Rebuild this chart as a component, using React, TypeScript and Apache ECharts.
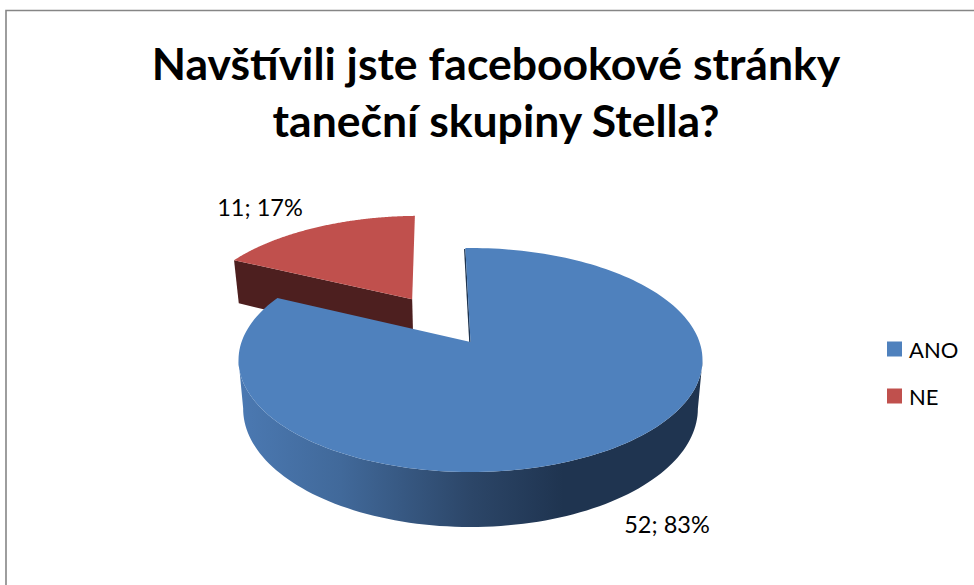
import React, { useEffect, useRef } from "react";
import * as echarts from "echarts";

const categories = ["ANO", "NE"];
const values = [52, 11];
const titleLines = ["Navštívili jste facebookové stránky", "taneční skupiny Stella?"];

const BLUE = "#4f81bd";
const RED = "#c0504d";
const RED_CUT = "#4d1f1f";
const BLUE_CUT = "#1f3550";
const FONT = "Lato";

// Tilted disc: centre and radii of the top face, perspective shift of the apex.
const CX = 470.5;
const CY = 360;
const RX = 232;
const RY = 112;
const K = -0.16;
const START_DEG = -1.5;
const EXPLODE = 0.5;

const total = values.reduce((a, b) => a + b, 0);

function toScreen(x: number, y: number): [number, number] {
  const d = 1 + K * y;
  return [CX + (RX * x * Math.sqrt(1 - K * K)) / d, CY + (RY * (y + K)) / d];
}

// Lower rim of the disc for a point on its top face.
function drop(p: [number, number]): [number, number] {
  return [CX + (p[0] - CX) * 0.98, p[1] + 43 + ((p[1] - 258) * 12) / 214];
}

function sliceGeometry(index: number) {
  const before = values.slice(0, index).reduce((a, b) => a + b, 0);
  // NE is laid out last, so it ends back at the start angle.
  const from = START_DEG + (before / total) * 360;
  const to = from + (values[index] / total) * 360;
  const rad = (d: number) => (d * Math.PI) / 180;
  const mid = rad((from + to) / 2);
  const shift = index === 1 ? EXPLODE : 0;
  const ox = shift * Math.sin(mid);
  const oy = -shift * Math.cos(mid);
  const arc: [number, number][] = [];
  const steps = 180;
  for (let i = 0; i <= steps; i++) {
    const a = rad(from + ((to - from) * i) / steps);
    arc.push(toScreen(ox + Math.sin(a), oy - Math.cos(a)));
  }
  return { apex: toScreen(ox, oy), arc };
}

function renderSlice(index: number) {
  return () => {
    const { apex, arc } = sliceGeometry(index);
    const first = arc[0];
    const children: any[] = [];
    if (index === 0) {
      // The outer wall only shows between the disc's rightmost and leftmost points.
      const xs = arc.map((p) => p[0]);
      const right = xs.indexOf(Math.max(...xs));
      const left = xs.indexOf(Math.min(...xs));
      const front = arc.slice(right, left + 1);
      const rim = [...front, ...front.map(drop).reverse()];
      children.push({
        type: "polygon",
        shape: { points: rim },
        style: {
          fill: {
            type: "linear",
            x: 0,
            y: 0,
            x2: 1,
            y2: 0,
            colorStops: [
              { offset: 0, color: "#4b79b2" },
              { offset: 0.22, color: "#41699a" },
              { offset: 0.5, color: "#2c4668" },
              { offset: 0.7, color: "#1f3450" },
              { offset: 1, color: "#1f3450" },
            ],
          },
        },
      });
      children.push({
        type: "line",
        shape: { x1: first[0] - 0.6, y1: first[1] + 1, x2: apex[0] - 0.6, y2: apex[1] },
        style: { stroke: BLUE_CUT, lineWidth: 1.4 },
      });
    } else {
      children.push({
        type: "polygon",
        shape: { points: [first, apex, drop(apex), drop(first)] },
        style: { fill: RED_CUT },
      });
    }
    children.push({
      type: "polygon",
      shape: { points: [apex, ...arc] },
      style: { fill: index === 0 ? BLUE : RED },
    });
    const pct = Math.round((values[index] / total) * 100);
    children.push({
      type: "text",
      x: index === 0 ? 667 : 260,
      y: index === 0 ? 524 : 207,
      style: {
        text: `${values[index]}; ${pct}%`,
        fill: "#000000",
        font: `23.5px ${FONT}`,
        align: "center",
        verticalAlign: "middle",
      },
    });
    return { type: "group", children };
  };
}

export default function App() {
  const ref = useRef<HTMLDivElement>(null);
  useEffect(() => {
    const chart = echarts.init(ref.current!, undefined, { renderer: "svg" });
    chart.setOption({
      animation: false,
      backgroundColor: "#ffffff",
      title: {
        text: titleLines.join("\n"),
        left: 491,
        top: 29,
        textAlign: "center",
        textStyle: {
          fontFamily: FONT,
          fontWeight: "bold",
          fontSize: 44.5,
          lineHeight: 57,
          color: "#000000",
        },
      },
      legend: {
        data: categories,
        orient: "vertical",
        left: 882,
        top: 333,
        itemWidth: 15,
        itemHeight: 15,
        itemGap: 25,
        icon: "rect",
        textStyle: { fontFamily: FONT, fontSize: 22, color: "#000000", padding: [0, 0, 0, 2] },
      },
      graphic: [
        {
          type: "polyline",
          shape: { points: [[974, 10.5], [6, 10.5], [6, 585]] },
          style: { stroke: "#868686", lineWidth: 1.6, fill: "none" },
          silent: true,
        },
      ],
      // NE sits behind ANO, so it is drawn first.
      series: [1, 0].map((i) => ({
        type: "custom",
        name: categories[i],
        coordinateSystem: "none",
        itemStyle: { color: i === 0 ? BLUE : RED },
        data: [[values[i]]],
        renderItem: renderSlice(i),
        z: i === 0 ? 3 : 2,
      })),
    });
    return () => chart.dispose();
  }, []);
  return (
    <div
      ref={ref}
      style={{ position: "absolute", left: 0, top: 0, width: 974, height: 585 }}
    />
  );
}
